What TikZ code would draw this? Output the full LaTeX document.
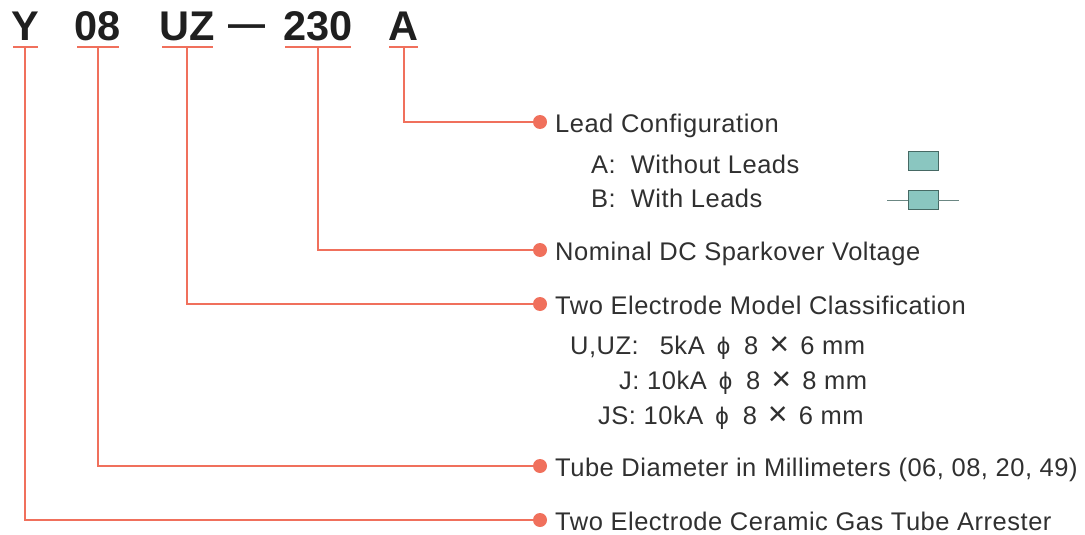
\documentclass[tikz,border=0pt]{standalone}
\usepackage{fontspec}
\setmainfont{Liberation Sans}
\newfontfamily\capfont[LetterSpace=2]{Liberation Sans}
\usepackage{xcolor}
\definecolor{leadline}{RGB}{240,112,92}
\definecolor{inktext}{RGB}{48,48,48}
\definecolor{tubefill}{RGB}{138,198,192}
\definecolor{tubeedge}{RGB}{70,105,100}
\newcommand{\sizeline}[3]{#1\hspace{#2}{\fontsize{24}{24}\selectfont ϕ}\hspace{14pt}8\hspace{11pt}\raisebox{-1.5pt}{\fontsize{34}{34}\selectfont ×}\hspace{11pt}#3 mm}

\begin{document}
\begin{tikzpicture}[
  x=1pt,y=-1pt,
  code letter/.style={anchor=base,inner sep=0pt,font=\fontsize{41.5}{41.5}\selectfont\bfseries,text=black!88},
  code bar/.style={fill=leadline,inner sep=0pt,minimum height=2.4pt},
  lead dot/.style={circle,fill=leadline,inner sep=0pt,minimum size=14pt},
  lead/.style={draw=leadline,line width=2pt},
  caption/.style={anchor=base west,inner sep=0pt,font=\fontsize{25.5}{25.5}\capfont,text=inktext},
  tube/.style={draw=tubeedge,fill=tubefill,line width=0.9pt,minimum width=30pt,minimum height=19pt,inner sep=0pt},
  wire/.style={draw=tubeedge!80,line width=0.8pt},
]
\useasboundingbox (0,0) rectangle (1085,535);
\foreach \name/\txt/\cx/\bw in {Y/Y/25/25,D/08/98/42,M/UZ/187/51,V/230/318/66,L/A/403.5/29} {
  \node[code letter] (code\name) at (\cx,41) {\txt};
  \node[code bar,minimum width=\bw pt] (bar\name) at (\cx,47) {};
}
\node[code letter,font=\fontsize{37}{37}\selectfont\bfseries] (dash) at (246.5,37) {—};
\foreach \name/\ty/\txt in {%
  L/122/Lead Configuration,%
  V/250/Nominal DC Sparkover Voltage,%
  M/304/Two Electrode Model Classification,%
  D/466/{Tube Diameter in Millimeters (06, 08, 20, 49)},%
  Y/520/Two Electrode Ceramic Gas Tube Arrester} {
  \node[lead dot] (dot\name) at (540,\ty) {};
  \node[caption] (text\name) at (555,\ty+10.5) {\txt};
  \draw[lead] (bar\name.south) |- (dot\name);
}
\node[caption] (optA) at (591,173) {A:\hspace{15pt}Without Leads};
\node[caption] (optB) at (591,207) {B:\hspace{15pt}With Leads};
\node[tube] (tubeA) at (923,161) {};
\node[tube] (tubeB) at (923,200) {};
\coordinate (wireL) at (887,200);
\coordinate (wireR) at (959,200);
\draw[wire] (wireL) -- (tubeB.west);
\draw[wire] (tubeB.east) -- (wireR);
\node[caption] (sizeU) at (570,354) {\sizeline{U,UZ:\hspace{21pt}5kA}{12pt}{6}};
\node[caption] (sizeJ) at (619,389) {\sizeline{J: 10kA}{12pt}{8}};
\node[caption] (sizeS) at (598,424) {\sizeline{JS: 10kA}{12pt}{6}};
\end{tikzpicture}
\end{document}
